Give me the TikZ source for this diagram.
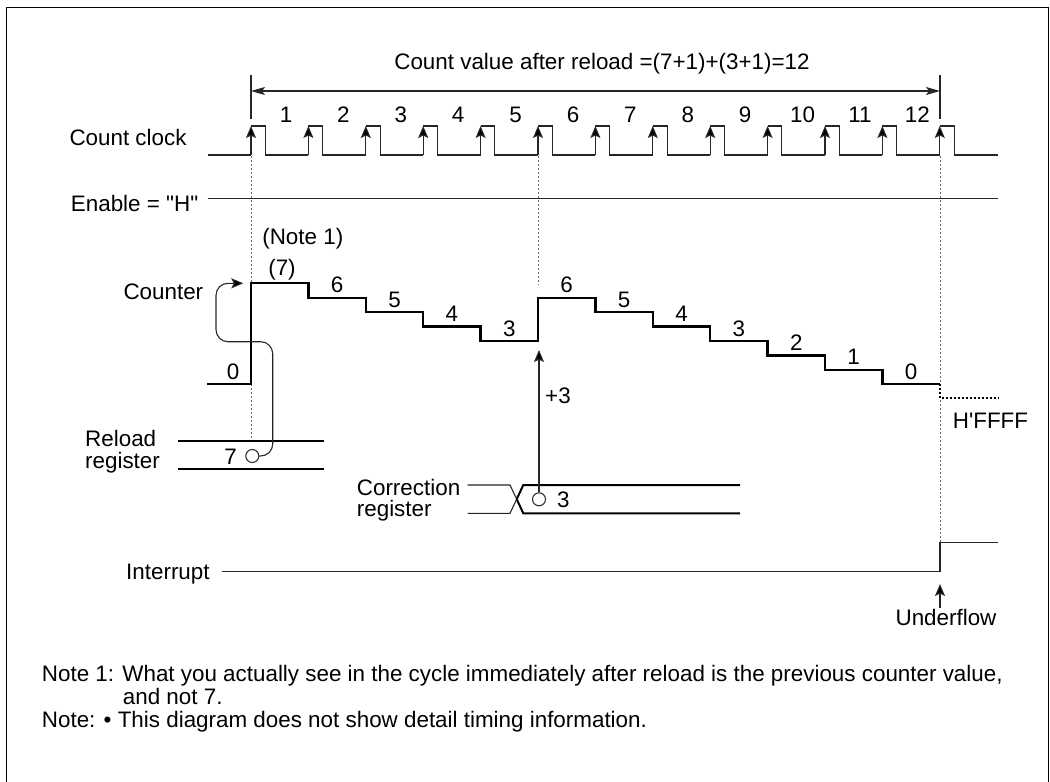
\documentclass[tikz,border=0pt]{standalone}
\usepackage{fontspec}
\setmainfont{Liberation Sans}
\usetikzlibrary{arrows.meta}
\begin{document}
\begin{tikzpicture}[x=1pt,y=-1pt,
  lbl/.style={font=\fontsize{22.4}{26}\selectfont, inner sep=0pt, anchor=base},
  lblw/.style={lbl, anchor=base west},
  thinln/.style={line width=1.1pt, draw=black!85},
  thickln/.style={line width=2.3pt, line join=miter},
  dotln/.style={line width=0.8pt, draw=black!60, dash pattern=on 2pt off 2pt},
  tip/.style={-{Stealth[length=12pt,width=10pt,inset=2.5pt,fill=black]}},
  ring/.style={circle, draw=black!80, line width=1.1pt, fill=white, minimum size=13pt, inner sep=0pt},
]
\useasboundingbox (0,0) rectangle (1050,782);
% frame
\draw[line width=1.5pt] (6.7,800) -- (6.7,7.3) -- (1048.3,7.3) -- (1048.3,800);

% title and span arrow
\node[lbl] (title) at (602,69.5) {Count value after reload =(7+1)+(3+1)=12};
\coordinate (spanL) at (251,91);
\coordinate (spanR) at (940,91);
\draw[thinln] (251,75) -- (251,119);
\draw[thinln] (940,75) -- (940,119);
\draw[thinln,{Stealth[length=14pt,width=8pt,inset=3pt]}-{Stealth[length=14pt,width=8pt,inset=3pt]}] (spanL) -- (spanR);

% count clock
\node[lblw] (cclk) at (69.3,145) {Count clock};
\draw[thinln] (207.7,155) -- (251,155);
\foreach \i in {0,...,12}{
  \pgfmathsetmacro\rx{251+57.4*\i}
  \pgfmathsetmacro\fx{\rx+14.3}
  \pgfmathsetmacro\nx{\i<12 ? \rx+57.4 : 998}
  \draw[thinln,tip] (\rx,155) -- (\rx,126);
  \draw[thinln] (\rx,126) -- (\fx,126) -- (\fx,155) -- (\nx,155);
}
\foreach \i in {1,...,12}{
  \pgfmathsetmacro\cx{251+57.4*(\i-1)+35}
  \node[lbl] (ck\i) at (\cx,122) {\i};
}

% enable
\node[lblw] (en) at (70.7,211.7) {Enable = \textquotedbl H\textquotedbl};
\draw[thinln] (207.7,198.3) -- (998,198.3);

% dotted guides
\draw[dotln] (251,156) -- (251,441);
\draw[dotln] (538,156) -- (538,285);
\draw[dotln] (940,156) -- (940,543);

% counter
\node[lbl] (note1) at (302.8,244.5) {(Note 1)};
\node[lblw] (ctr) at (123.3,299) {Counter};
\draw[thickln] (207,384.3) -- (251,384.3) -- (251,283.3) -- (308.4,283.3) -- (308.4,297.7)
  -- (365.8,297.7) -- (365.8,312.2) -- (423.2,312.2) -- (423.2,326.6) -- (480.6,326.6)
  -- (480.6,341) -- (538,341) -- (538,297.7) -- (595.4,297.7) -- (595.4,312.2)
  -- (652.8,312.2) -- (652.8,326.6) -- (710.2,326.6) -- (710.2,341) -- (767.6,341)
  -- (767.6,355.5) -- (825,355.5) -- (825,369.9) -- (882.4,369.9) -- (882.4,384.3) -- (939.8,384.3);
\draw[line width=2pt, dash pattern=on 2pt off 2pt] (939.8,384.3) -- (939.8,398.3) -- (998,398.3);
\node[lbl] (v0a) at (233,379) {0};
\node[lbl] (v7) at (282,275) {(7)};
\node[lbl] (v6a) at (337.1,292.7) {6};
\node[lbl] (v5a) at (394.5,307.2) {5};
\node[lbl] (v4a) at (451.9,321.6) {4};
\node[lbl] (v3a) at (509.3,336) {3};
\node[lbl] (v6b) at (566.7,292.7) {6};
\node[lbl] (v5b) at (624.1,307.2) {5};
\node[lbl] (v4b) at (681.5,321.6) {4};
\node[lbl] (v3b) at (738.9,336) {3};
\node[lbl] (v2) at (796.3,350.5) {2};
\node[lbl] (v1) at (853.7,364.9) {1};
\node[lbl] (v0b) at (911.1,379.3) {0};
\node[lblw] (hffff) at (952.7,428.3) {H\textquotesingle FFFF};

% reload register
\node[lblw] (rl1) at (85,446.7) {Reload};
\node[lblw] (rl2) at (85,468.3) {register};
\draw[line width=2pt] (178.3,441) -- (324.3,441);
\draw[line width=2pt] (178.3,469.3) -- (324.3,469.3);
\node[lbl] (r7) at (230.7,464) {7};
\node[ring] (c7) at (252.3,456) {};
\coordinate (c7to) at (243.3,283.3);
\draw[thinln,tip,rounded corners=12pt] (c7.east) -| (272.7,341.7) -| (216,283.3) -- (c7to);

% correction register
\node[lblw] (cr1) at (356.7,495) {Correction};
\node[lblw] (cr2) at (356.7,516.6) {register};
\draw[thinln] (467.7,485) -- (510,485) -- (516.7,499.2);
\draw[thinln] (467.7,513.3) -- (510,513.3) -- (516.7,499.2);
\draw[line width=2pt] (516.7,499.2) -- (523.3,485) -- (740,485);
\draw[line width=2pt] (516.7,499.2) -- (523.3,513.3) -- (740,513.3);
\node[ring] (c3) at (539,499.3) {};
\node[lbl] (r3) at (563.3,507) {3};
\coordinate (c3to) at (539,350);
\draw[thinln,tip] (c3.north) -- (c3to);
\node[lblw] (plus3) at (545,403) {+3};

% interrupt
\node[lblw] (intr) at (126,579.5) {Interrupt};
\draw[thinln] (221.7,571.5) -- (940,571.5) -- (940,542.7) -- (998,542.7);
\node[lbl] (uf) at (946,625) {Underflow};
\coordinate (ufto) at (940,584);
\draw[thinln,tip] (940,608) -- (ufto);

% notes
\node[lblw] (nt1) at (41.7,681) {Note 1: What you actually see in the cycle immediately after reload is the previous counter value,};
\node[lblw] (nt2) at (122.7,704.3) {and not 7.};
\node[lblw] (nt3) at (41.7,727.6) {Note: • This diagram does not show detail timing information.};
\end{tikzpicture}
\end{document}
